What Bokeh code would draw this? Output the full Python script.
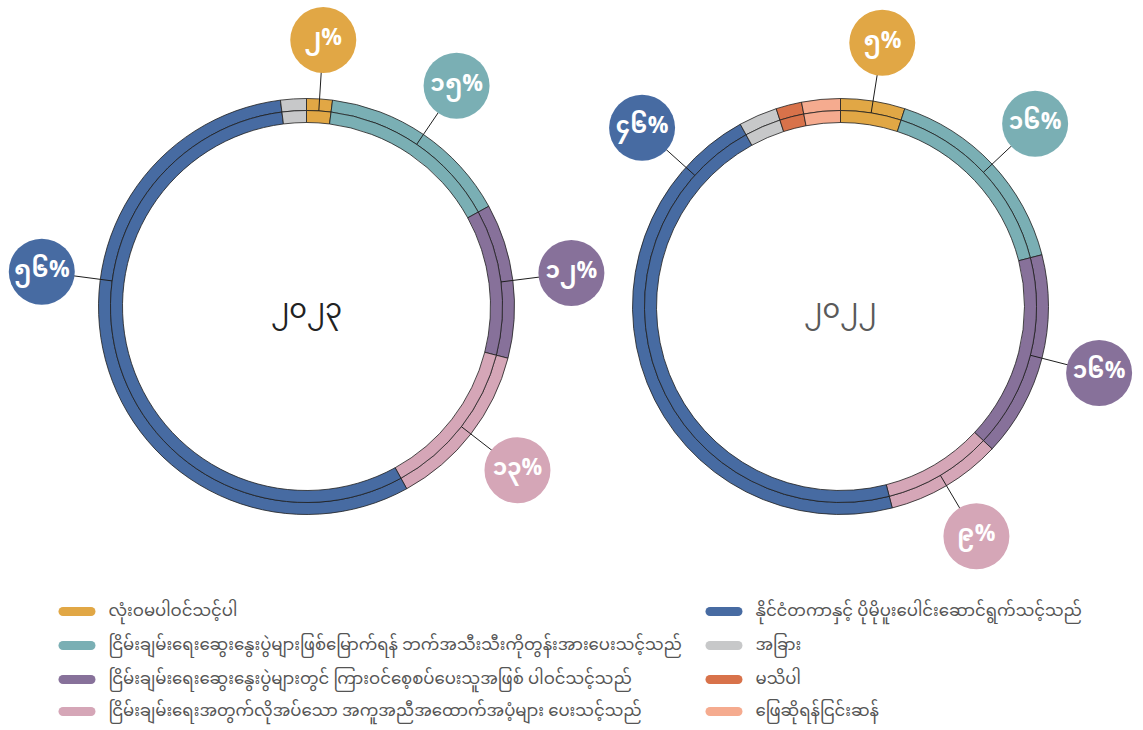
import math
from bokeh.plotting import figure
from bokeh.models import Range1d
from bokeh.embed import file_html
from bokeh.resources import INLINE
from bokeh.core.properties import value

# ---------------- data ----------------
categories = [
    "လုံးဝမပါဝင်သင့်ပါ",
    "ငြိမ်းချမ်းရေးဆွေးနွေးပွဲများဖြစ်မြောက်ရန် ဘက်အသီးသီးကိုတွန်းအားပေးသင့်သည်",
    "ငြိမ်းချမ်းရေးဆွေးနွေးပွဲများတွင် ကြားဝင်စေ့စပ်ပေးသူအဖြစ် ပါဝင်သင့်သည်",
    "ငြိမ်းချမ်းရေးအတွက်လိုအပ်သော အကူအညီအထောက်အပံ့များ ပေးသင့်သည်",
    "နိုင်ငံတကာနှင့် ပိုမိုပူးပေါင်းဆောင်ရွက်သင့်သည်",
    "အခြား",
    "မသိပါ",
    "ဖြေဆိုရန်ငြင်းဆန်",
]
colors = ["#E1A745", "#7AAFB4", "#87719A", "#D5A6B7", "#476BA2", "#C7C8C9", "#D8724A", "#F5AB8F"]
years = ["၂၀၂၃", "၂၀၂၂"]
values_2023 = [2, 15, 12, 13, 56, 2, 0, 0]
values_2022 = [5, 16, 16, 9, 46, 3, 2, 3]
labelled = [True, True, True, True, True, False, False, False]

# ---------------- layout ----------------
W, H = 1143, 730
def sx(X): return X
def sy(Y): return H - Y

charts = [
    dict(year=years[0], vals=values_2023, cx=sx(306), cy=sy(306), year_color="#222222",
         label_angle_override={4: 277.5}),
    dict(year=years[1], vals=values_2022, cx=sx(840), cy=sy(306), year_color="#5a5a5a",
         label_angle_override={4: 312.0}),
]
R_OUT, R_MID, R_IN = 208, 196, 184
R_LABEL, R_BUBBLE = 267, 33

digits = "၀၁၂၃၄၅၆၇၈၉"
def my_num(n):
    return "".join(digits[int(c)] for c in str(n))

p = figure(width=W, height=H, output_backend="svg", toolbar_location=None,
           x_range=Range1d(0, W), y_range=Range1d(0, H), min_border=0)
p.axis.visible = False
p.grid.visible = False
p.outline_line_color = None
p.background_fill_color = "white"

MY_FONT = value("Noto Sans Myanmar")

for ch in charts:
    cx, cy = ch["cx"], ch["cy"]
    total = sum(ch["vals"])
    theta = 0.0
    xs0, ys0, bx, by, bc, bt = [], [], [], [], [], []
    for i, v in enumerate(ch["vals"]):
        if v <= 0:
            continue
        span = 360.0 * v / total
        t1, t2 = theta, theta + span
        sa, ea = math.radians(90 - t1), math.radians(90 - t2)
        for ri, ro in ((R_MID, R_OUT), (R_IN, R_MID)):
            p.annular_wedge(x=cx, y=cy, inner_radius=ri, outer_radius=ro,
                            start_angle=sa, end_angle=ea, direction="clock",
                            fill_color=colors[i], line_color="#1e1e1e", line_width=0.8)
        if labelled[i]:
            la = ch["label_angle_override"].get(i, (t1 + t2) / 2)
            a = math.radians(90 - la)
            xs0.append(cx + R_MID * math.cos(a)); ys0.append(cy + R_MID * math.sin(a))
            bx.append(cx + R_LABEL * math.cos(a)); by.append(cy + R_LABEL * math.sin(a))
            bc.append(colors[i]); bt.append(my_num(v) + "%")
        theta = t2
    p.segment(x0=xs0, y0=ys0, x1=bx, y1=by, line_color="#1e1e1e", line_width=1)
    p.circle(x=bx, y=by, radius=R_BUBBLE, fill_color=bc, line_color=None)
    p.text(x=bx, y=by, text=bt, text_align="center", text_baseline="middle",
           text_color="white", text_font_size="23px", text_font=MY_FONT,
           text_font_style="bold")
    p.text(x=[cx], y=[cy - 5], text=[ch["year"]], text_align="center", text_baseline="middle",
           text_color=ch["year_color"], text_font_size="27px", text_font=MY_FONT)

# ---------------- legend ----------------
row_y = [611, 645, 679, 711]
cols = [(58, 95, 108), (705, 742, 755)]
for i, cat in enumerate(categories):
    c = i // 4
    r = i % 4
    m0, m1, tx = cols[c]
    y = sy(row_y[r])
    p.segment(x0=[sx(m0) + 4.5], y0=[y], x1=[sx(m1) - 4.5], y1=[y],
              line_color=colors[i], line_width=9, line_cap="round")
    p.text(x=[sx(tx)], y=[y], text=[cat], text_align="left", text_baseline="middle",
           text_color="#555555", text_font_size="16.5px", text_font=MY_FONT)

open("out.html", "w").write(file_html(p, INLINE))
